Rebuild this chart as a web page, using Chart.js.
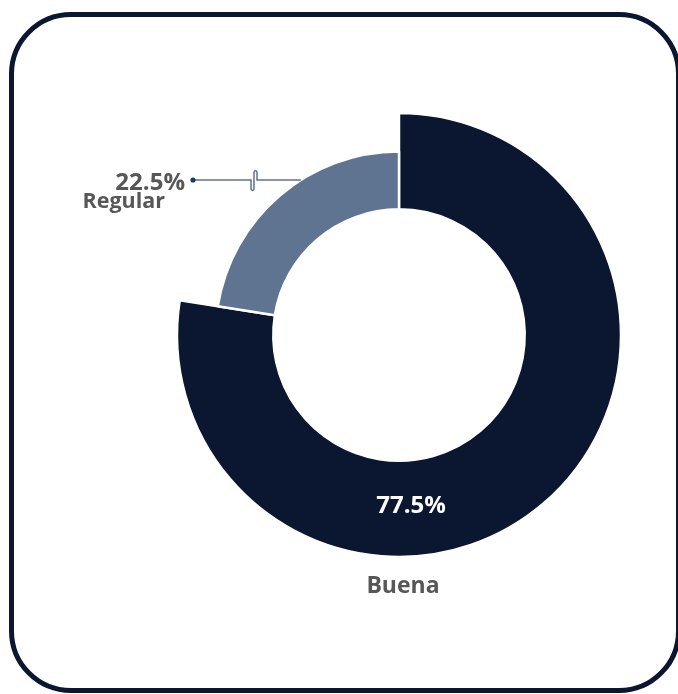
<!DOCTYPE html>
<html>
<head>
<meta charset="utf-8">
<script src="https://cdn.jsdelivr.net/npm/chart.js@4"></script>
<style>
  html, body { margin: 0; padding: 0; background: #fff; }
  #wrap { position: relative; width: 678px; height: 694px; overflow: hidden; }
  #frame { position: absolute; left: 9px; top: 12px; width: 672px; height: 681px; box-sizing: border-box;
    border: 5px solid #0b1630; border-radius: 62px; }
  canvas { position: absolute; left: 0; top: 0; }
</style>
</head>
<body>
<div id="wrap">
  <div id="frame"></div>
  <canvas id="c" width="678" height="694"></canvas>
</div>
<script>
/* Calidad percibida: dona de dos segmentos */
const labels = ["Buena", "Regular"];
const values = [77.5, 22.5];
const colors = ["#0b1630", "#5e7490"];

const FONT = "'Open Sans', Lato, sans-serif";
const SLATE = "#5e7490", GREY = "#575757";

// the smaller slice is drawn as a thinner ring
const thinRing = {
  id: "thinRing",
  afterUpdate(chart) {
    const arc = chart.getDatasetMeta(0).data[1];
    if (arc) arc.outerRadius = arc.innerRadius + (arc.outerRadius - arc.innerRadius) * 0.6;
  }
};

const fmt = (v) => v.toFixed(1) + "%";

const labelsPlugin = {
  id: "sliceLabels",
  afterDraw(chart) {
    const meta = chart.getDatasetMeta(0);
    const a0 = meta.data[0], a1 = meta.data[1];
    const cx = a0.x, cy = a0.y;
    const ctx = chart.ctx;
    ctx.save();
    ctx.textBaseline = "alphabetic";

    // Buena
    ctx.fillStyle = "#fff";
    ctx.font = "bold 24px " + FONT;
    ctx.textAlign = "center";
    ctx.fillText(fmt(values[0]), cx + 12, cy + 178);
    ctx.fillStyle = GREY;
    ctx.font = "bold 23px " + FONT;
    ctx.fillText(labels[0], cx + 4, cy + 258);

    // Regular: leader line with a break mark
    const ly = cy - 155;
    const ex = cx - Math.sqrt(a1.outerRadius * a1.outerRadius - 155 * 155);
    ctx.strokeStyle = SLATE;
    ctx.lineWidth = 1.5;
    ctx.beginPath();
    ctx.moveTo(cx - 206, ly);
    ctx.lineTo(cx - 148, ly);
    ctx.lineTo(cx - 148, ly + 9);
    ctx.quadraticCurveTo(cx - 146.5, ly + 12, cx - 145, ly + 9);
    ctx.lineTo(cx - 145, ly - 8);
    ctx.quadraticCurveTo(cx - 143.5, ly - 11, cx - 142, ly - 8);
    ctx.lineTo(cx - 142, ly);
    ctx.lineTo(ex, ly);
    ctx.stroke();
    ctx.fillStyle = "#1c3a5e";
    ctx.beginPath();
    ctx.arc(cx - 206, ly, 2.6, 0, Math.PI * 2);
    ctx.fill();

    ctx.fillStyle = GREY;
    ctx.textAlign = "right";
    ctx.font = "bold 24px " + FONT;
    ctx.fillText(fmt(values[1]), cx - 214, cy - 145);
    ctx.font = "bold 21.5px " + FONT;
    ctx.fillText(labels[1], cx - 234, cy - 127);
    ctx.restore();
  }
};

new Chart(document.getElementById("c"), {
  type: "doughnut",
  data: {
    labels,
    datasets: [{ data: values, backgroundColor: colors, borderColor: "#ffffff", borderWidth: 2.5, hoverOffset: 0 }]
  },
  options: {
    responsive: false,
    animation: false,
    radius: 222,
    cutout: 125,
    layout: { padding: { left: 177, right: 57, top: 113, bottom: 137 } },
    plugins: { legend: { display: false }, tooltip: { enabled: false } }
  },
  plugins: [thinRing, labelsPlugin]
});
</script>
</body>
</html>
